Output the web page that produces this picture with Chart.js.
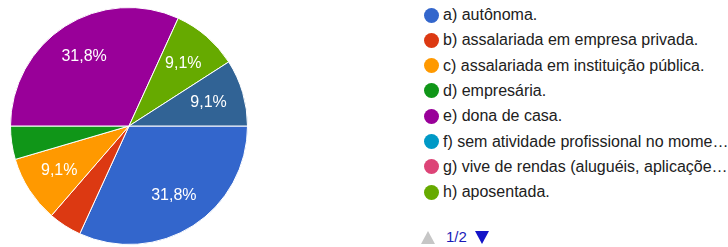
<!DOCTYPE html>
<html>
<head>
<meta charset="utf-8">
<script src="https://cdn.jsdelivr.net/npm/chart.js@4/dist/chart.umd.min.js"></script>
<style>
  html, body { margin: 0; padding: 0; background: #ffffff; }
  body { width: 728px; height: 247px; position: relative; overflow: hidden; font-family: "Liberation Sans", Arial, sans-serif; }
  #pieBox { position: absolute; left: 10px; top: 7px; width: 238px; height: 238px; }
  #legend { position: absolute; left: 424px; top: 0; }
  .row { position: absolute; left: 0; height: 20px; white-space: nowrap; font-size: 16px; color: #212121; }
  .dot { position: absolute; left: 0; width: 15px; height: 15px; border-radius: 50%; }
  .lbl { position: absolute; left: 19px; top: -1px; line-height: 17px; }
  #pager { position: absolute; left: 421px; top: 229px; font-size: 15px; }
  #pager .up { position: absolute; left: 0; top: 2px; width: 0; height: 0; border-left: 7px solid transparent; border-right: 7px solid transparent; border-bottom: 13px solid #c6c6c6; }
  #pager .num { position: absolute; left: 25px; top: 0; color: #1a1ab8; line-height: 16px; }
  #pager .down { position: absolute; left: 54px; top: 2px; width: 0; height: 0; border-left: 7px solid transparent; border-right: 7px solid transparent; border-top: 13px solid #1414c8; }
</style>
</head>
<body>
<div id="pieBox"><canvas id="c"></canvas></div>
<div id="legend"></div>
<div id="pager"><div class="up"></div><div class="num">1/2</div><div class="down"></div></div>
<script>
// Categories (page 1 of legend shows the first 8; the 9th belongs to page 2)
const categories = [
  "a) autônoma.",
  "b) assalariada em empresa privada.",
  "c) assalariada em instituição pública.",
  "d) empresária.",
  "e) dona de casa.",
  "f) sem atividade profissional no mome…",
  "g) vive de rendas (aluguéis, aplicaçõe…",
  "h) aposentada.",
  "i) outra"
];
// Response counts (22 responses total)
const counts = [7, 1, 2, 1, 7, 0, 0, 2, 2];
const colors = ["#3366cc", "#dc3912", "#ff9900", "#109618", "#990099", "#0099c6", "#dd4477", "#66aa00", "#316395"];
const legendPageSize = 8;

// Legend (HTML, page 1)
const legend = document.getElementById('legend');
for (let i = 0; i < legendPageSize; i++) {
  const y = 15 + i * 25.3;
  const row = document.createElement('div');
  row.className = 'row';
  row.style.top = (y - 8) + 'px';
  const dot = document.createElement('div');
  dot.className = 'dot';
  dot.style.background = colors[i];
  dot.style.top = '0.5px';
  const lbl = document.createElement('div');
  lbl.className = 'lbl';
  lbl.textContent = categories[i];
  row.appendChild(dot);
  row.appendChild(lbl);
  legend.appendChild(row);
}

const total = counts.reduce((a, b) => a + b, 0);

const sliceLabels = {
  id: 'sliceLabels',
  afterDatasetsDraw(chart) {
    const ctx = chart.ctx;
    const meta = chart.getDatasetMeta(0);
    ctx.save();
    ctx.fillStyle = '#ffffff';
    ctx.font = '16px "Liberation Sans", Arial, sans-serif';
    ctx.textAlign = 'center';
    ctx.textBaseline = 'middle';
    meta.data.forEach((arc, i) => {
      const v = counts[i];
      const frac = v / total;
      if (frac < 0.06) return;
      const a = (arc.startAngle + arc.endAngle) / 2;
      const r = arc.outerRadius * 0.7;
      const x = arc.x + Math.cos(a) * r;
      const y = arc.y + Math.sin(a) * r;
      ctx.fillText((frac * 100).toFixed(1).replace('.', ',') + '%', x, y);
    });
    ctx.restore();
  }
};

new Chart(document.getElementById('c'), {
  type: 'pie',
  data: {
    labels: categories,
    datasets: [{
      data: counts,
      backgroundColor: colors,
      borderColor: '#ffffff',
      borderWidth: 1
    }]
  },
  options: {
    responsive: true,
    maintainAspectRatio: false,
    animation: false,
    events: [],
    rotation: 90,
    layout: { padding: 0 },
    plugins: {
      legend: { display: false },
      tooltip: { enabled: false }
    }
  },
  plugins: [sliceLabels]
});
</script>
</body>
</html>
